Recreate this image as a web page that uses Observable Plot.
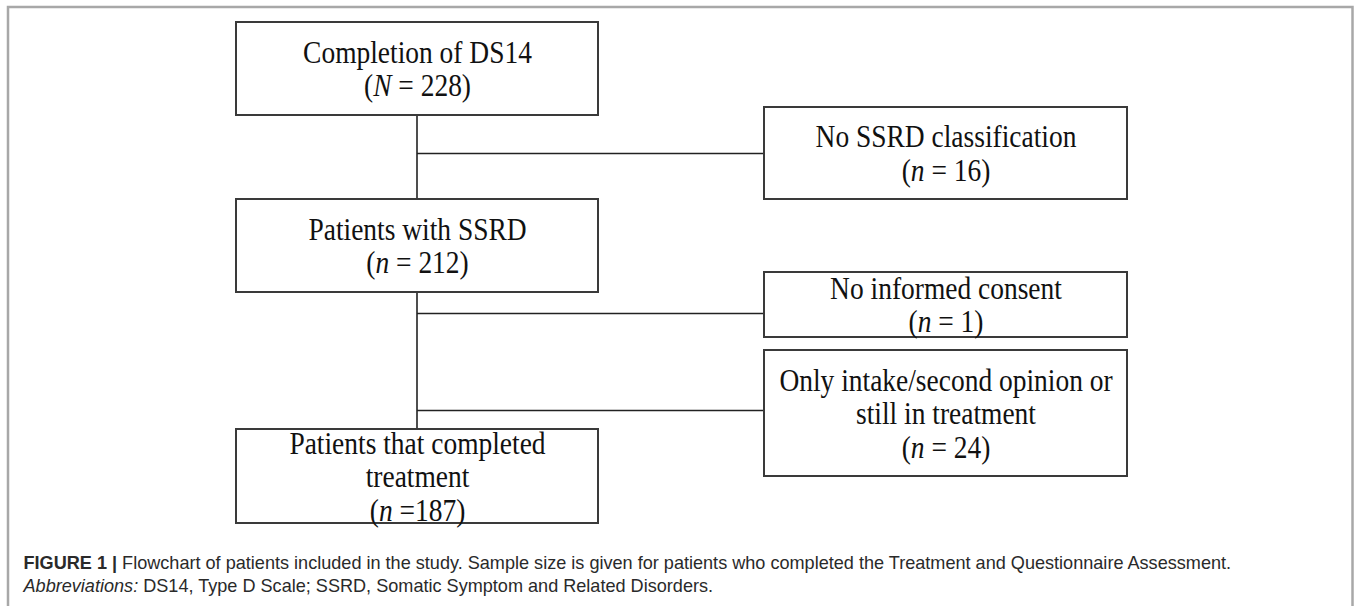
<!DOCTYPE html>
<html>
<head>
<meta charset="utf-8">
<script src="https://cdn.jsdelivr.net/npm/d3@7"></script>
<script src="https://cdn.jsdelivr.net/npm/@observablehq/plot@0.6"></script>
<style>
  html, body { margin: 0; padding: 0; background: #fff; }
  #chart svg { display: block; }
</style>
</head>
<body>
<div id="chart"></div>
<script>
// ---- content ----
const boxTitles = [
  "Completion of DS14",
  "Patients with SSRD",
  "Patients that completed\ntreatment",
  "No SSRD classification",
  "No informed consent",
  "Only intake/second opinion or\nstill in treatment"
];
const boxCounts = ["(N = 228)", "(n = 212)", "(n =187)", "(n = 16)", "(n = 1)", "(n = 24)"];
const captionLines = [
  "FIGURE 1 | Flowchart of patients included in the study. Sample size is given for patients who completed the Treatment and Questionnaire Assessment.",
  "Abbreviations: DS14, Type D Scale; SSRD, Somatic Symptom and Related Disorders."
];

// ---- layout (page units) ----
const W = 1355, H = 606;
const boxLeft   = [236, 236, 236, 764, 764, 764];
const boxRight  = [598, 598, 598, 1127, 1127, 1127];
const boxTop    = [22, 199, 429, 107, 272, 350];
const boxBottom = [115, 292, 523, 199, 337, 476];
const linkFrom = [[416.5, 115], [416.5, 292], [416.5, 153], [416.5, 313], [416.5, 410]];
const linkTo   = [[416.5, 199], [416.5, 429], [764, 153], [764, 313], [764, 410]];
const captionY = [563, 586];

const nodes = boxTitles.map((t, i) => ({
  label: t + "\n" + boxCounts[i],
  x1: boxLeft[i], x2: boxRight[i], y1: boxTop[i], y2: boxBottom[i]
}));
const links = linkFrom.map((f, i) => ({x1: f[0], y1: f[1], x2: linkTo[i][0], y2: linkTo[i][1]}));
const caps = captionLines.map((t, i) => ({text: t, x: 23, y: captionY[i]}));
const frame = [{x1: 8, x2: 1352.5, y1: 7, y2: 700}];

const chart = Plot.plot({
  width: W,
  height: H,
  margin: 0,
  style: {background: "#fff", overflow: "hidden"},
  x: {domain: [0, W], range: [0, W], axis: null},
  y: {domain: [0, H], range: [0, H], axis: null},
  marks: [
    Plot.rect(frame, {x1: "x1", x2: "x2", y1: "y1", y2: "y2", fill: "none", stroke: "#a8a8a8", strokeWidth: 2.5}),
    Plot.link(links, {x1: "x1", y1: "y1", x2: "x2", y2: "y2", stroke: "#222", strokeWidth: 1.6}),
    Plot.rect(nodes, {x1: "x1", x2: "x2", y1: "y1", y2: "y2", fill: "#fff", stroke: "#3a3a3a", strokeWidth: 2}),
    Plot.text(nodes, {
      x: d => (d.x1 + d.x2) / 2,
      y: d => (d.y1 + d.y2) / 2,
      text: "label",
      fontFamily: "Liberation Serif",
      fontSize: 32.5,
      lineHeight: 1.03,
      lineAnchor: "middle",
      fill: "#111",
      ariaLabel: "box-text"
    }),
    Plot.text(caps, {
      x: "x", y: "y", text: "text",
      textAnchor: "start",
      fontFamily: "Liberation Sans",
      fontSize: 18.1,
      fill: "#2a2a2a",
      ariaLabel: "caption"
    })
  ]
});
document.getElementById("chart").appendChild(chart);

const textGroups = chart.querySelectorAll('g[aria-label="text"], g[aria-label="box-text"], g[aria-label="caption"]');
// condensed look of the box lettering
if (textGroups[0]) {
  textGroups[0].querySelectorAll("text").forEach(t => {
    const tr = t.getAttribute("transform");
    if (tr) t.setAttribute("transform", tr + " scale(0.845,1)");
  });
}

// rich text runs: italic n/N, bold figure label, italic abbreviations label
const NS = "http://www.w3.org/2000/svg";
function runs(el, parts) {
  while (el.firstChild) el.removeChild(el.firstChild);
  for (const [txt, attr] of parts) {
    const t = document.createElementNS(NS, "tspan");
    t.textContent = txt;
    for (const k in attr) t.setAttribute(k, attr[k]);
    el.appendChild(t);
  }
}
chart.querySelectorAll("text, tspan").forEach(el => {
  if (el.children.length) return;
  const s = el.textContent;
  let m;
  if ((m = s.match(/^\((N|n)(.*)$/))) {
    runs(el, [["(", {}], [m[1], {"font-style": "italic"}], [m[2], {}]]);
  } else if (s.startsWith("FIGURE 1 |")) {
    runs(el, [["FIGURE 1 |", {"font-weight": 700}], [s.slice(10), {}]]);
  } else if (s.startsWith("Abbreviations:")) {
    runs(el, [["Abbreviations:", {"font-style": "italic"}], [s.slice(14), {}]]);
  }
});
</script>
</body>
</html>
